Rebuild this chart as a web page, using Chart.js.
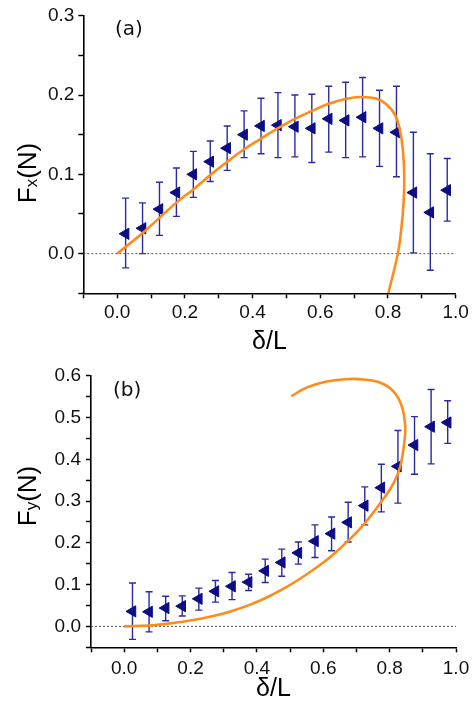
<!DOCTYPE html>
<html><head><meta charset="utf-8">
<script src="https://cdn.jsdelivr.net/npm/chart.js@4"></script>
<style>
html,body{margin:0;padding:0;background:#fff;}
#wrap{position:relative;width:472px;height:702px;overflow:hidden;}
canvas{position:absolute;left:0;top:0;}
</style></head><body>
<div id="wrap">
<canvas id="ca" width="472" height="702"></canvas>
<canvas id="cb" width="472" height="702"></canvas>
</div>
<script>
// ---- data ----
const deltaL = [0.025,0.075,0.125,0.175,0.225,0.275,0.325,0.375,0.425,0.475,0.525,0.575,0.625,0.675,0.725,0.775,0.825,0.875,0.925,0.975];

const fxMean  = [0.025,0.032,0.056,0.077,0.100,0.116,0.133,0.150,0.161,0.162,0.160,0.158,0.170,0.168,0.172,0.158,0.153,0.077,0.052,0.080];
const fxUpper = [0.070,0.064,0.090,0.108,0.129,0.142,0.161,0.180,0.196,0.203,0.200,0.201,0.211,0.216,0.222,0.206,0.211,0.153,0.126,0.120];
const fxLower = [-0.018,0.000,0.023,0.047,0.071,0.091,0.105,0.121,0.126,0.121,0.122,0.115,0.128,0.121,0.122,0.110,0.097,0.001,-0.021,0.041];

const fxModelX = [0,0.075,0.174,0.225,0.275,0.326,0.373,0.425,0.474,0.525,0.576,0.625,0.675,0.717,0.767,0.796,0.821,0.835,0.844,0.848,0.846,0.839,0.829,0.801];
const fxModelY = [0,0.026,0.064,0.081,0.099,0.116,0.131,0.145,0.158,0.170,0.180,0.189,0.195,0.1975,0.1954,0.188,0.175,0.156,0.131,0.097,0.064,0.030,0.0,-0.05];

const fyMean  = [0.036,0.035,0.044,0.0485,0.066,0.084,0.096,0.106,0.133,0.153,0.176,0.204,0.222,0.249,0.289,0.332,0.383,0.434,0.478,0.488];
const fyUpper = [0.104,0.083,0.072,0.073,0.0915,0.110,0.129,0.125,0.161,0.185,0.202,0.243,0.262,0.297,0.334,0.388,0.469,0.502,0.567,0.540];
const fyLower = [-0.031,-0.013,0.0135,0.025,0.039,0.058,0.064,0.086,0.105,0.120,0.149,0.165,0.181,0.202,0.243,0.274,0.295,0.364,0.389,0.438];

const fyModelX = [0,0.075,0.126,0.176,0.226,0.275,0.325,0.376,0.426,0.475,0.524,0.574,0.624,0.674,0.723,0.774,0.812,0.832,0.845,0.847,0.837,0.812,0.772,0.721,0.676,0.611,0.551,0.504];
const fyModelY = [0,0.002,0.006,0.011,0.0175,0.026,0.037,0.051,0.068,0.088,0.111,0.138,0.168,0.204,0.245,0.297,0.343,0.383,0.446,0.478,0.526,0.562,0.583,0.591,0.592,0.586,0.572,0.551];

const zeroLineX = [-0.1, 1.0];
const xRange = [-0.1, 1.0];
const fxRange = [-0.05, 0.3];
const fyRange = [-0.05, 0.6];
const panelLabels = ['(a)', '(b)'];
const xTitle = 'δ/L';
const yTitles = [['F','x','(N)'], ['F','y','(N)']];

// ---- helpers ----
const FONT = '"Liberation Sans", Arial, sans-serif';
const navy = '#0c0c84';
const errCol = '#2b2ba0';
const orange = '#ff8c1a';

const pts = (xs, ys) => xs.map((x, i) => ({x, y: ys[i]}));

const errorBarPlugin = {
  id: 'errorBars',
  beforeDatasetsDraw(chart, args, opts) {
    const {ctx, scales: {x, y}} = chart;
    ctx.save();
    ctx.strokeStyle = errCol;
    ctx.lineWidth = 1.4;
    const cap = 3.5;
    opts.x.forEach((xv, i) => {
      const px = x.getPixelForValue(xv);
      const pt = y.getPixelForValue(opts.upper[i]);
      const pb = y.getPixelForValue(opts.lower[i]);
      ctx.beginPath();
      ctx.moveTo(px, pt); ctx.lineTo(px, pb);
      ctx.moveTo(px - cap, pt); ctx.lineTo(px + cap, pt);
      ctx.moveTo(px - cap, pb); ctx.lineTo(px + cap, pb);
      ctx.stroke();
    });
    ctx.restore();
  }
};

const decorPlugin = {
  id: 'decor',
  afterDraw(chart, args, opts) {
    const {ctx} = chart;
    ctx.save();
    // panel label
    ctx.fillStyle = '#111';
    ctx.font = '20px "DejaVu Sans", sans-serif';
    ctx.textBaseline = 'middle';
    ctx.textAlign = 'left';
    ctx.fillText(opts.label, opts.labelX, opts.labelY);
    // rotated y title with subscript
    const [a, sub, b] = opts.ytitle;
    const big = '26px ' + FONT, small = '17px ' + FONT;
    ctx.font = big; const wa = ctx.measureText(a).width, wb = ctx.measureText(b).width;
    ctx.font = small; const ws = ctx.measureText(sub).width;
    const total = wa + ws + wb;
    ctx.translate(opts.titleX, opts.titleY);
    ctx.rotate(-Math.PI / 2);
    ctx.textBaseline = 'alphabetic';
    ctx.fillStyle = '#000';
    let cx = -total / 2;
    ctx.font = big; ctx.fillText(a, cx, 0); cx += wa;
    ctx.font = small; ctx.fillText(sub, cx, opts.subDy); cx += ws;
    ctx.font = big; ctx.fillText(b, cx, 0);
    ctx.restore();
  }
};

function makeChart(id, cfg) {
  const xOpts = {
    type: 'linear', min: xRange[0], max: xRange[1], position: 'bottom',
    ticks: {
      stepSize: 0.1, autoSkip: false, maxRotation: 0, minRotation: 0,
      padding: cfg.xTickPad, color: '#111',
      font: {family: FONT, size: 19},
      callback: v => { const k = Math.round(v * 10); return (k >= 0 && k % 2 === 0) ? (k / 10).toFixed(1) : ''; }
    },
    grid: {drawOnChartArea: false, drawTicks: true, tickLength: 5, tickColor: '#000', tickWidth: 1.5},
    border: {display: true, color: '#000', width: 1.6},
    title: {display: true, text: xTitle, color: '#000', font: {family: FONT, size: 25, lineHeight: 1}, padding: 0},
    afterFit(s) { s.height = cfg.xAxisH; s.paddingLeft = 0; s.paddingRight = 0; }
  };
  const yOpts = {
    type: 'linear', min: cfg.yRange[0], max: cfg.yRange[1], position: 'left',
    ticks: {
      stepSize: 0.05, autoSkip: false, padding: cfg.yTickPad, color: '#111',
      font: {family: FONT, size: 19},
      callback: v => { const k = Math.round(v * 100); return (k >= 0 && k % 10 === 0) ? (k / 100).toFixed(1) : ''; }
    },
    grid: {drawOnChartArea: false, drawTicks: true, tickLength: 5, tickColor: '#000', tickWidth: 1.5},
    border: {display: true, color: '#000', width: 1.6},
    afterFit(s) { s.width = cfg.yAxisW; s.paddingTop = 0; s.paddingBottom = 0; }
  };
  return new Chart(document.getElementById(id), {
    type: 'scatter',
    data: {
      datasets: [
        {label: 'model', data: pts(cfg.modelX, cfg.modelY), showLine: true, borderColor: orange, borderWidth: 2.6,
         pointRadius: 0, tension: 0.4, fill: false},
        {label: 'measured', data: pts(deltaL, cfg.mean), showLine: false, pointStyle: 'triangle', rotation: -90,
         pointRadius: 6.5, backgroundColor: navy, borderColor: navy, borderWidth: 1},
        {label: 'zero', data: pts(zeroLineX, [0, 0]), showLine: true, borderColor: '#555', borderWidth: 1,
         borderDash: [2, 2], pointRadius: 0}
      ]
    },
    options: {
      responsive: false, animation: false, devicePixelRatio: 1,
      layout: {padding: cfg.padding},
      scales: {x: xOpts, y: yOpts},
      plugins: {
        legend: {display: false}, tooltip: {enabled: false},
        errorBars: {x: deltaL, upper: cfg.upper, lower: cfg.lower},
        decor: cfg.decor
      }
    },
    plugins: [errorBarPlugin, decorPlugin]
  });
}

makeChart('ca', {
  modelX: fxModelX, modelY: fxModelY, mean: fxMean, upper: fxUpper, lower: fxLower,
  yRange: fxRange, padding: {top: 15.7, right: 16.3, bottom: 702 - 355, left: 0},
  xAxisH: 355 - 293.3, yAxisW: 83.3, xTickPad: 3, yTickPad: 4,
  decor: {label: panelLabels[0], labelX: 115, labelY: 30, ytitle: yTitles[0], titleX: 36, titleY: 173, subDy: 1}
});
makeChart('cb', {
  modelX: fyModelX, modelY: fyModelY, mean: fyMean, upper: fyUpper, lower: fyLower,
  yRange: fyRange, padding: {top: 375.7, right: 16, bottom: 0, left: 0},
  xAxisH: 702 - 647.3, yAxisW: 91, xTickPad: 5, yTickPad: 5,
  decor: {label: panelLabels[1], labelX: 113, labelY: 391, ytitle: yTitles[1], titleX: 36, titleY: 496, subDy: 1}
});
</script>
</body></html>
